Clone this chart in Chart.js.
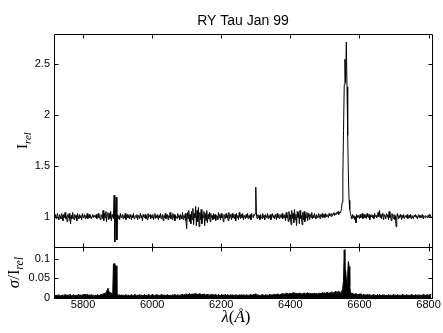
<!DOCTYPE html>
<html>
<head>
<meta charset="utf-8">
<script src="https://cdn.jsdelivr.net/npm/chart.js"></script>
<style>
  html, body { margin: 0; padding: 0; background: #fff; }
  #spec { display: block; }
</style>
</head>
<body>
<canvas id="spec" width="443" height="333"></canvas>
<script>
// spectrum sampled every 2 A starting at 5716 A
const lamStart = 5716;
const lamStep = 2;

// relative intensity I_rel
const flux = [
  1.00, 0.99, 1.02, 0.98, 1.01, 1.03, 0.99, 0.97, 1.02, 1.00,
  0.98, 1.03, 1.01, 0.96, 1.02, 0.99, 1.04, 0.98, 1.00, 0.95,
  1.02, 0.99, 1.03, 0.97, 0.93, 1.01, 0.98, 1.04, 1.00, 0.97,
  1.02, 0.99, 1.01, 0.96, 1.03, 1.00, 0.98, 1.02, 0.99, 1.01,
  0.97, 1.03, 0.99, 1.00, 1.02, 0.98, 1.01, 0.99, 1.03, 0.98,
  1.00, 1.02, 0.99, 1.01, 0.98, 1.00, 1.02, 0.99, 1.01, 1.00,
  0.99, 1.02, 0.98, 1.01, 1.03, 0.99, 1.00, 0.97, 1.02, 1.01,
  0.98, 1.06, 0.96, 1.03, 0.99, 1.05, 0.95, 1.02, 1.04, 0.97,
  1.03, 0.98, 1.05, 0.96, 1.02, 1.00, 0.98, 1.21, 0.75, 1.03,
  1.19, 0.77, 1.02, 0.98, 1.01, 0.97, 1.03, 0.99, 1.00, 1.02,
  0.98, 1.01, 0.99, 1.03, 0.97, 1.00, 1.02, 0.99, 1.01, 0.98,
  1.02, 1.00, 0.97, 1.01, 0.99, 1.03, 0.98, 1.00, 1.01, 0.99,
  1.02, 0.97, 1.01, 1.00, 0.98, 1.03, 0.99, 1.01, 0.96, 1.02,
  1.00, 0.99, 1.02, 0.98, 1.01, 0.97, 1.03, 0.99, 1.00, 1.02,
  0.98, 1.01, 0.99, 1.02, 0.97, 1.00, 1.03, 0.98, 1.01, 0.99,
  1.02, 0.97, 1.01, 0.99, 1.03, 0.98, 1.00, 1.02, 0.96, 1.01,
  0.99, 1.03, 0.98, 1.00, 1.02, 0.97, 1.01, 0.99, 1.04, 0.98,
  1.01, 0.97, 1.03, 0.99, 1.02, 0.96, 1.01, 1.00, 0.98, 1.03,
  0.99, 1.01, 0.97, 1.02, 1.00, 0.98, 1.04, 0.97, 1.01, 0.99,
  1.03, 0.96, 0.88, 1.04, 0.98, 1.06, 0.95, 1.02, 0.93, 1.05,
  0.97, 1.08, 0.92, 1.03, 0.99, 1.10, 0.91, 1.06, 0.95, 1.09,
  0.90, 1.04, 0.97, 1.07, 0.93, 1.02, 0.99, 1.05, 0.91, 1.03,
  0.96, 1.06, 0.94, 1.02, 0.98, 1.04, 0.95, 1.03, 0.99, 1.01,
  0.97, 1.03, 0.98, 1.02, 0.96, 1.01, 1.00, 0.97, 1.04, 0.99,
  1.02, 0.97, 1.03, 0.99, 1.01, 0.95, 1.02, 1.00, 0.98, 1.03,
  0.99, 1.01, 0.96, 1.04, 0.98, 1.02, 1.00, 0.97, 1.03, 0.99,
  1.01, 0.98, 1.02, 0.96, 1.03, 0.99, 1.01, 0.97, 1.04, 1.00,
  0.98, 1.02, 0.99, 1.03, 0.97, 1.01, 1.00, 0.98, 1.02, 0.99,
  1.03, 0.98, 1.01, 0.99, 1.02, 0.97, 1.03, 1.00, 0.99, 1.02,
  1.01, 1.03, 1.29, 1.00, 0.98, 1.02, 0.99, 1.01, 0.97, 1.02,
  1.00, 0.98, 1.03, 0.99, 1.01, 0.97, 1.02, 1.00, 0.99, 1.03,
  0.98, 1.01, 0.99, 1.02, 0.97, 1.00, 1.03, 0.99, 1.01, 0.98,
  1.02, 1.00, 0.97, 1.03, 0.99, 1.01, 0.98, 1.02, 1.00, 0.99,
  1.03, 0.98, 1.01, 0.99, 1.02, 0.96, 1.04, 0.99, 1.01, 0.95,
  1.05, 0.97, 1.02, 0.92, 1.06, 0.98, 1.03, 0.94, 1.07, 0.97,
  1.02, 0.91, 1.05, 0.99, 1.03, 0.93, 1.06, 0.98, 1.01, 0.92,
  1.04, 0.97, 1.05, 0.95, 1.02, 0.99, 1.04, 0.96, 1.03, 1.00,
  0.97, 1.02, 0.99, 1.04, 0.98, 1.01, 0.99, 1.03, 1.00, 0.98,
  1.02, 1.00, 0.99, 1.03, 1.01, 0.98, 1.02, 1.00, 1.03, 0.99,
  1.01, 1.02, 0.99, 1.03, 1.00, 1.02, 1.01, 0.99, 1.03, 1.01,
  1.02, 1.00, 1.03, 1.01, 1.02, 1.04, 1.01, 1.03, 1.02, 1.04,
  1.03, 1.05, 1.02, 1.04, 1.04, 1.05, 1.08, 1.14, 1.40, 1.85,
  2.30, 2.55, 2.32, 2.72, 2.28, 1.80, 1.40, 1.16, 1.07, 1.03,
  1.00, 0.98, 1.02, 0.99, 1.01, 0.97, 1.00, 0.94, 1.02, 0.99,
  1.01, 1.00, 0.98, 1.02, 0.99, 1.01, 1.03, 0.98, 1.00, 1.02,
  0.99, 1.01, 0.98, 1.03, 1.00, 0.99, 1.02, 0.97, 1.01, 1.00,
  1.02, 0.99, 1.01, 0.98, 1.03, 1.00, 1.01, 0.99, 1.02, 1.04,
  1.00, 1.06, 0.99, 1.02, 0.98, 1.03, 1.01, 0.97, 1.02, 1.00,
  0.98, 1.03, 1.00, 1.02, 0.97, 1.05, 0.99, 1.01, 0.96, 1.03,
  1.00, 0.98, 1.02, 0.97, 1.01, 0.90, 1.00, 1.03, 0.98, 1.01,
  0.99, 1.02, 1.00, 0.97, 1.01, 0.99, 1.02, 0.98, 1.00, 1.01,
  0.99, 1.02, 0.98, 1.00, 1.01, 0.99, 1.02, 0.98, 1.01, 1.00,
  0.98, 1.01, 1.00, 1.02, 0.99, 1.01, 0.98, 1.00, 1.02, 0.99,
  1.01, 0.99, 1.00, 1.02, 0.98, 1.01, 1.00, 0.99, 1.01, 1.00,
  0.99, 1.01, 1.00, 1.02, 1.00, 1.01, 1.00
];

// relative error sigma / I_rel on the same grid
const sigma = [
  .006, .004, .007, .005, .008, .006, .005, .009, .006, .004,
  .007, .005, .008, .006, .004, .007, .009, .005, .006, .008,
  .005, .007, .006, .010, .008, .005, .007, .006, .009, .005,
  .006, .008, .005, .007, .006, .009, .007, .005, .008, .006,
  .007, .005, .009, .006, .008, .010, .007, .006, .009, .008,
  .006, .008, .007, .005, .009, .006, .008, .007, .005, .006,
  .008, .006, .007, .009, .005, .007, .006, .008, .010, .007,
  .009, .011, .008, .012, .010, .014, .016, .021, .025, .019,
  .015, .012, .010, .013, .009, .011, .086, .088, .030, .083,
  .082, .010, .008, .006, .009, .007, .005, .008, .006, .007,
  .005, .008, .006, .007, .009, .005, .006, .008, .007, .005,
  .007, .006, .009, .005, .008, .006, .007, .010, .006, .005,
  .008, .006, .007, .005, .009, .007, .006, .008, .005, .007,
  .006, .009, .007, .005, .008, .006, .007, .010, .008, .006,
  .005, .007, .009, .006, .008, .005, .007, .006, .009, .007,
  .006, .008, .005, .007, .006, .009, .007, .005, .008, .006,
  .007, .005, .008, .006, .009, .007, .006, .008, .005, .007,
  .006, .008, .007, .005, .009, .006, .008, .007, .006, .009,
  .007, .005, .008, .006, .009, .007, .010, .008, .006, .009,
  .008, .011, .009, .007, .010, .008, .012, .009, .007, .010,
  .009, .011, .008, .010, .012, .009, .011, .008, .010, .009,
  .011, .008, .010, .009, .007, .010, .008, .011, .009, .007,
  .009, .008, .010, .007, .009, .006, .008, .010, .007, .009,
  .006, .008, .007, .009, .006, .008, .005, .007, .009, .006,
  .008, .006, .007, .009, .005, .008, .006, .007, .010, .006,
  .007, .009, .006, .008, .005, .007, .009, .006, .008, .007,
  .005, .008, .006, .009, .007, .006, .008, .005, .007, .009,
  .006, .008, .007, .005, .009, .006, .008, .007, .006, .009,
  .007, .005, .008, .006, .009, .007, .006, .008, .007, .010,
  .008, .009, .011, .008, .006, .009, .007, .005, .008, .006,
  .007, .009, .006, .008, .005, .007, .009, .006, .008, .007,
  .006, .008, .010, .007, .009, .006, .008, .007, .010, .008,
  .009, .007, .010, .008, .011, .009, .007, .010, .008, .011,
  .009, .012, .010, .008, .011, .009, .013, .010, .012, .009,
  .011, .013, .010, .012, .009, .011, .014, .010, .012, .011,
  .013, .010, .012, .009, .011, .013, .010, .012, .011, .009,
  .012, .010, .013, .011, .009, .012, .010, .014, .011, .012,
  .010, .013, .011, .009, .012, .010, .011, .013, .010, .012,
  .011, .009, .012, .010, .013, .011, .012, .010, .014, .012,
  .011, .013, .012, .010, .014, .012, .015, .011, .013, .012,
  .014, .012, .016, .013, .011, .015, .013, .017, .014, .012,
  .016, .014, .018, .013, .012, .014, .017, .020, .028, .045,
  .123, .060, .070, .050, .036, .060, .093, .080, .030, .016,
  .012, .010, .013, .009, .011, .008, .010, .012, .009, .007,
  .010, .008, .009, .011, .007, .009, .006, .008, .010, .007,
  .009, .006, .008, .007, .010, .006, .008, .009, .007, .005,
  .008, .006, .009, .007, .005, .008, .006, .007, .009, .006,
  .007, .009, .006, .008, .005, .007, .009, .006, .008, .007,
  .006, .008, .005, .007, .009, .006, .008, .007, .005, .008,
  .006, .009, .007, .005, .008, .006, .007, .009, .006, .008,
  .007, .005, .008, .006, .009, .007, .006, .008, .005, .007,
  .009, .006, .008, .007, .005, .008, .006, .009, .007, .006,
  .008, .006, .007, .009, .005, .008, .007, .006, .009, .007,
  .006, .008, .005, .007, .009, .006, .008, .007, .006, .008,
  .007, .009, .006, .008, .007, .009, .010
];

const lamTicks = [5800, 6000, 6200, 6400, 6600, 6800];
const fluxTicks = [1, 1.5, 2, 2.5];
const sigmaTicks = [0, 0.05, 0.1];

const toPoints = (vals) => vals.map((v, i) => ({ x: lamStart + i * lamStep, y: v }));

const tickLen = 4;
const tickFont = { family: '"Liberation Sans", Arial, sans-serif', size: 11 };
const serif = '"Liberation Serif", "Times New Roman", serif';

// box around each panel with inward ticks on all four sides
const frame = {
  id: 'frame',
  afterDatasetsDraw(chart) {
    const { ctx, scales } = chart;
    const xs = scales.x;
    const L = Math.round(xs.left) + 0.5;
    const R = Math.round(xs.right) + 0.5;
    ctx.save();
    ctx.strokeStyle = '#000';
    ctx.lineWidth = 1;
    ctx.beginPath();
    [['flux', fluxTicks], ['sig', sigmaTicks]].forEach(([id, ticks]) => {
      const ys = scales[id];
      const T = Math.round(ys.top) + 0.5;
      const B = Math.round(ys.bottom) + 0.5;
      ctx.rect(L, T, R - L, B - T);
      lamTicks.forEach(v => {
        const px = Math.round(xs.getPixelForValue(v)) + 0.5;
        ctx.moveTo(px, T); ctx.lineTo(px, T + tickLen);
        ctx.moveTo(px, B); ctx.lineTo(px, B - tickLen);
      });
      ticks.forEach(v => {
        const py = Math.round(ys.getPixelForValue(v)) + 0.5;
        ctx.moveTo(L, py); ctx.lineTo(L + tickLen, py);
        ctx.moveTo(R, py); ctx.lineTo(R - tickLen, py);
      });
    });
    ctx.stroke();
    ctx.restore();
  }
};

// draws a run of text pieces [text, font, baseline shift] centred on cx
const drawRun = (ctx, cx, cy, parts, rotated) => {
  ctx.save();
  ctx.translate(cx, cy);
  if (rotated) ctx.rotate(-Math.PI / 2);
  let total = 0;
  const widths = parts.map(([t, f]) => { ctx.font = f; const w = ctx.measureText(t).width; total += w; return w; });
  let x = -total / 2;
  parts.forEach(([t, f, dy], i) => {
    ctx.font = f;
    ctx.fillText(t, x, dy);
    x += widths[i];
  });
  ctx.restore();
};

const axisTitles = {
  id: 'axisTitles',
  afterDraw(chart) {
    const { ctx, scales } = chart;
    const fy = scales.flux, sy = scales.sig, xs = scales.x;
    ctx.save();
    ctx.fillStyle = '#000';
    ctx.textBaseline = 'alphabetic';
    drawRun(ctx, 27, (fy.top + fy.bottom) / 2, [
      ['I', '15px ' + serif, 0],
      ['rel', 'italic 11px ' + serif, 4]
    ], true);
    drawRun(ctx, 19, (sy.top + sy.bottom) / 2, [
      ['σ', 'italic 17px ' + serif, 0],
      ['/', '17px ' + serif, 0],
      ['I', '16px ' + serif, 0],
      ['rel', 'italic 12px ' + serif, 4]
    ], true);
    drawRun(ctx, (xs.left + xs.right) / 2 - 7, 322, [
      ['λ', 'italic 17px ' + serif, 0],
      ['(', '17px ' + serif, 0],
      ['Å', 'italic 17px ' + serif, 0],
      [')', '17px ' + serif, 0]
    ], false);
    ctx.restore();
  }
};

const yAxis = (ticks, min, max, weight) => ({
  type: 'linear',
  position: 'left',
  stack: 'panels',
  stackWeight: weight,
  min: min,
  max: max,
  grid: { display: false, drawTicks: false },
  border: { display: false },
  afterFit: (s) => { s.width = 54; },
  afterBuildTicks: (s) => { s.ticks = ticks.map(v => ({ value: v })); },
  ticks: {
    font: tickFont,
    color: '#000',
    padding: 4,
    autoSkip: false,
    callback: (v) => String(v)
  }
});

new Chart(document.getElementById('spec'), {
  type: 'line',
  data: {
    datasets: [
      {
        data: toPoints(flux),
        yAxisID: 'flux',
        borderColor: '#000',
        borderWidth: 1,
        pointRadius: 0,
        fill: false
      },
      {
        data: toPoints(sigma),
        yAxisID: 'sig',
        borderColor: '#000',
        backgroundColor: '#000',
        borderWidth: 1,
        pointRadius: 0,
        fill: 'origin'
      }
    ]
  },
  options: {
    responsive: false,
    animation: false,
    devicePixelRatio: 1,
    layout: { padding: { left: 0, right: 11, top: 0, bottom: 0 } },
    plugins: {
      legend: { display: false },
      tooltip: { enabled: false },
      title: {
        display: true,
        fullSize: false,
        text: 'RY Tau Jan 99',
        color: '#000',
        font: { family: '"Liberation Sans", Arial, sans-serif', size: 14, weight: 'normal' },
        padding: { top: 13, bottom: 4.2 }
      }
    },
    scales: {
      x: {
        type: 'linear',
        position: 'bottom',
        min: 5716,
        max: 6810,
        grid: { display: false, drawTicks: false },
        border: { display: false },
        afterFit: (s) => { s.height = 35; },
        afterBuildTicks: (s) => { s.ticks = lamTicks.map(v => ({ value: v })); },
        ticks: {
          font: tickFont,
          color: '#000',
          padding: 0,
          autoSkip: false,
          maxRotation: 0,
          callback: (v) => String(v)
        }
      },
      sig: yAxis(sigmaTicks, 0, 0.13, 51),
      flux: yAxis(fluxTicks, 0.7, 2.8, 213)
    }
  },
  plugins: [frame, axisTitles]
});
</script>
</body>
</html>
